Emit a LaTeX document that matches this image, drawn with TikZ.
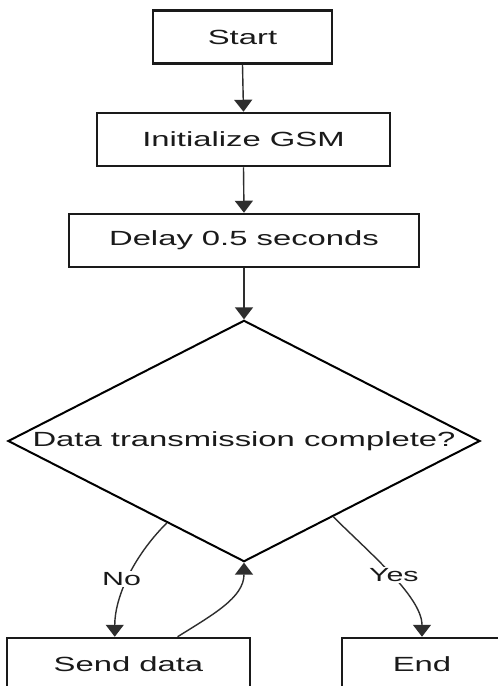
\documentclass[tikz,border=0pt]{standalone}
\usepackage{fontspec}
\setmainfont{Liberation Sans}[FakeStretch=1.6]
\usetikzlibrary{shapes.geometric,arrows.meta,calc}
\definecolor{ink}{HTML}{1A1A1A}
\definecolor{wire}{HTML}{2E2E2E}
\begin{document}
\begin{tikzpicture}[x=1pt,y=-1pt,
  box/.style={draw=ink, line width=2.5pt, rectangle, minimum height=53pt,
    inner sep=0pt, font=\fontsize{20.5}{24}\selectfont, text=ink},
  choice/.style={draw=black, line width=2pt, diamond, aspect=1.903,
    minimum width=472pt, inner sep=0pt, font=\fontsize{20.5}{24}\selectfont, text=ink},
  flow/.style={draw=wire, line width=1.4pt, -{Triangle[width=18pt,length=12pt]}},
  tag/.style={fill=white, font=\fontsize{19}{22}\selectfont, text=ink, inner sep=1.5pt}]
\clip (0,0) rectangle (498,686);
\fill[white] (0,0) rectangle (498,686);

% process steps
\node[box, minimum width=179pt] (start) at (242.5,37) {Start};
\node[box, minimum width=293pt] (init)  at (243.5,139.5) {Initialize GSM};
\node[box, minimum width=350pt] (delay) at (244,240.5) {Delay 0.5 seconds};
\node[choice] (check) at (244,441) {Data transmission complete?};
\node[box, minimum width=243pt] (send) at (128.5,664.5) {Send data};
\node[box, minimum width=160pt] (stop) at (422,664.5) {End};

% straight flow
\draw[flow] (start.south) -- (init.north);
\draw[flow] (init.south) -- (delay.north);
\draw[flow] (delay.south) -- (check.north);

% branches out of the decision
\draw[flow] ($(check.west)!0.674!(check.south)$)
  .. controls +(-35,35) and +(0,-38) ..
  node[tag, pos=0.5, xshift=-6pt] {No}
  ($(send.north west)!0.444!(send.north east)$);
\draw[flow] ($(check.south)!0.377!(check.east)$)
  .. controls +(35,35) and +(0,-40) ..
  node[tag, pos=0.5, xshift=3pt] {Yes}
  (stop.north);

% loop back after sending
\draw[flow] ($(send.north west)!0.70!(send.north east)$)
  .. controls +(35,-22) and +(0,35) .. (check.south);
\end{tikzpicture}
\end{document}
